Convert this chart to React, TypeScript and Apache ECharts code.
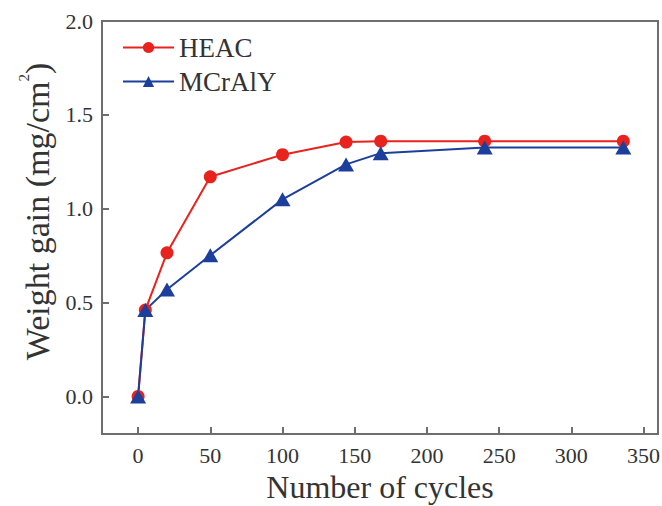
import React, { useEffect, useRef } from "react";
import * as echarts from "echarts";

const cycles = [0, 5, 20, 50, 100, 144, 168, 240, 336];
const heac = [0, 0.46, 0.765, 1.17, 1.288, 1.355, 1.36, 1.36, 1.36];
const mcraly = [0, 0.46, 0.57, 0.752, 1.05, 1.236, 1.296, 1.326, 1.326];
const xTicks = [0, 50, 100, 150, 200, 250, 300, 350];
const yTicks = [0, 0.5, 1.0, 1.5, 2.0];
const seriesNames = ["HEAC", "MCrAlY"];

const SERIF = '"Liberation Serif", "Times New Roman", serif';
const AXIS = "#6e6e6e";
const TEXT = "#333";

export default function App() {
  const ref = useRef<HTMLDivElement>(null);
  useEffect(() => {
    if (!ref.current) return;
    const chart = echarts.init(ref.current, undefined, { renderer: "svg" });
    const axisLine = { show: true, onZero: false, lineStyle: { color: AXIS, width: 2 } };
    const axisTick = { show: true, inside: true, length: 7, lineStyle: { color: AXIS, width: 2 } };
    chart.setOption({
      animation: false,
      backgroundColor: "#fff",
      grid: {
        left: 102,
        right: 4,
        top: 21,
        bottom: 72,
        show: true,
        borderColor: AXIS,
        borderWidth: 2,
        outerBoundsMode: "none",
      },
      legend: {
        orient: "vertical",
        left: 117,
        top: 29,
        itemWidth: 51,
        itemHeight: 14,
        itemGap: 7,
        data: seriesNames,
        textStyle: { fontFamily: SERIF, fontSize: 27, color: TEXT, lineHeight: 27 },
      },
      xAxis: {
        type: "value",
        min: -25,
        max: 360,
        axisLine,
        splitLine: { show: false },
        axisTick: { ...axisTick, customValues: xTicks },
        axisLabel: {
          customValues: xTicks,
          margin: 10,
          fontFamily: SERIF,
          fontSize: 22,
          color: TEXT,
        },
        name: "Number of cycles",
        nameLocation: "middle",
        nameGap: 35,
        nameTextStyle: { fontFamily: SERIF, fontSize: 32, color: TEXT },
      },
      yAxis: {
        type: "value",
        min: -0.2,
        max: 2.0,
        axisLine,
        splitLine: { show: false },
        axisTick: { ...axisTick, customValues: yTicks },
        axisLabel: {
          customValues: yTicks,
          margin: 9,
          fontFamily: SERIF,
          fontSize: 22,
          color: TEXT,
          formatter: (v: number) => v.toFixed(1),
        },
        name: "{a|Weight gain (mg/cm}{sup|2}{a|)}",
        nameLocation: "middle",
        nameGap: 46,
        nameTextStyle: {
          padding: [0, 0, 0, 32],
          rich: {
            a: { fontFamily: SERIF, fontSize: 34, lineHeight: 34, color: TEXT, verticalAlign: "bottom" },
            sup: {
              fontFamily: SERIF,
              fontSize: 15,
              color: TEXT,
              verticalAlign: "top",
              padding: [0, 0, 23, 0],
            },
          },
        },
      },
      series: [
        {
          name: seriesNames[0],
          type: "line",
          data: cycles.map((c, i) => [c, heac[i]]),
          symbol: "circle",
          symbolSize: 13,
          lineStyle: { color: "#e8231e", width: 2 },
          itemStyle: { color: "#e8231e" },
        },
        {
          name: seriesNames[1],
          type: "line",
          data: cycles.map((c, i) => [c, mcraly[i]]),
          symbol: "triangle",
          symbolSize: [16, 14],
          lineStyle: { color: "#1d3f9c", width: 2 },
          itemStyle: { color: "#1d3f9c" },
        },
      ],
    });
    return () => chart.dispose();
  }, []);
  return <div ref={ref} style={{ width: 662, height: 506, position: "absolute", left: 0, top: 0 }} />;
}
